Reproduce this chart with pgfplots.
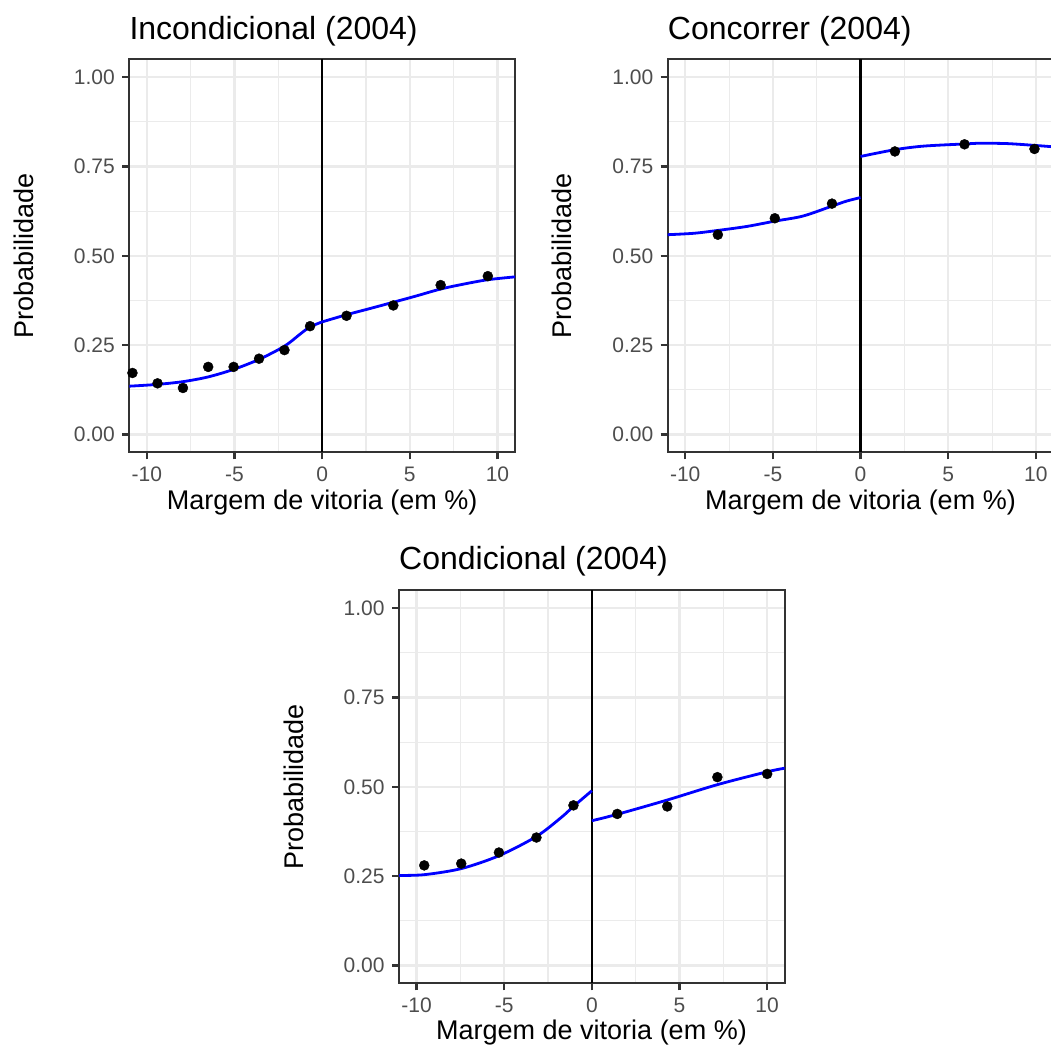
\documentclass[border=0pt]{standalone}
\usepackage{pgfplots}
\pgfplotsset{compat=1.18}
\usepackage{fontspec}
\setmainfont{Liberation Sans}
\definecolor{gridc}{HTML}{EBEBEB}
\definecolor{tickc}{HTML}{333333}
\definecolor{labc}{HTML}{4D4D4D}
\definecolor{myblue}{RGB}{0,0,255}
\newcommand{\titfont}{\fontsize{32}{38}\selectfont}
\newcommand{\labfont}{\fontsize{27}{32}\selectfont}
\newcommand{\ticfont}{\fontsize{21}{25}\selectfont}
\pgfplotsset{
 myax/.style={
  scale only axis, width=385.7pt, height=393pt, anchor=south west,
  xmin=-11, xmax=11, ymin=-0.05, ymax=1.05,
  xtick={-10,-5,0,5,10}, xticklabels={-10,-5,0,5,10},
  ytick={0,0.25,0.5,0.75,1}, yticklabels={0.00,0.25,0.50,0.75,1.00},
  minor xtick={-7.5,-2.5,2.5,7.5}, minor ytick={0.125,0.375,0.625,0.875},
  grid=both,
  major grid style={draw=gridc, line width=2.2pt},
  minor grid style={draw=gridc, line width=1.1pt},
  tick align=outside, major tick length=7pt, minor tick length=0pt,
  tick style={draw=tickc, line width=2.2pt},
  axis line style={draw=tickc, line width=2.2pt},
  tick pos=left,
  tick label style={font=\ticfont, text=labc},
  xticklabel style={anchor=north, inner sep=0pt, yshift=-7.4pt},
  yticklabel style={anchor=east, inner sep=0pt, xshift=-7.3pt},
  clip=true,
 },
 pts/.style={only marks, mark=*, mark size=5pt, black},
 crv/.style={myblue, line width=2.8pt, smooth},
 vln/.style={black, line width=2.4pt},
}
\begin{document}
\begin{tikzpicture}[x=1pt,y=1pt]
% Panel 1
\begin{axis}[myax, at={(129.3pt,595.7pt)}]
\addplot[vln] coordinates {(0,-0.05) (0,1.05)};
\addplot[crv] coordinates {(-11,0.135) (-9.4,0.140) (-7.9,0.148) (-6.5,0.161) (-5.05,0.182) (-3.6,0.210) (-2.15,0.247) (-1.2,0.283) (-0.69,0.301) (0,0.315)};
\addplot[crv] coordinates {(0,0.315) (1.39,0.335) (2.7,0.352) (4.06,0.370) (5.4,0.388) (6.76,0.407) (8.1,0.421) (9.45,0.433) (11,0.441)};
\addplot[pts] coordinates {(-10.82,0.172) (-9.39,0.143) (-7.94,0.130) (-6.50,0.189) (-5.05,0.189) (-3.60,0.212) (-2.15,0.236) (-0.69,0.303) (1.39,0.332) (4.06,0.361) (6.76,0.418) (9.45,0.443)};
\end{axis}
% Panel 2
\begin{axis}[myax, at={(667.7pt,595.7pt)}]
\addplot[vln] coordinates {(0,-0.05) (0,1.05)};
\addplot[crv] coordinates {(-11,0.559) (-9.5,0.563) (-8.14,0.571) (-6.5,0.582) (-4.89,0.597) (-3.3,0.611) (-1.63,0.639) (-0.8,0.653) (0,0.663)};
\addplot[crv] coordinates {(0,0.778) (1.96,0.797) (3.6,0.807) (5.93,0.813) (6.84,0.815) (8.37,0.814) (9.92,0.809) (11,0.805)};
\addplot[pts] coordinates {(-8.14,0.559) (-4.89,0.605) (-1.63,0.646) (1.96,0.792) (5.93,0.812) (9.92,0.799)};
\end{axis}
% Panel 3
\begin{axis}[myax, at={(399pt,64.7pt)}]
\addplot[vln] coordinates {(0,-0.05) (0,1.05)};
\addplot[crv] coordinates {(-11,0.252) (-9.56,0.254) (-7.45,0.271) (-5.3,0.307) (-3.16,0.361) (-1.75,0.414) (-1.05,0.445) (0,0.489)};
\addplot[crv] coordinates {(0,0.405) (1.45,0.423) (4.3,0.463) (7.16,0.506) (10,0.542) (11,0.552)};
\addplot[pts] coordinates {(-9.56,0.280) (-7.45,0.285) (-5.30,0.316) (-3.16,0.358) (-1.05,0.448) (1.45,0.424) (4.30,0.445) (7.16,0.527) (10.0,0.536)};
\end{axis}
% Titles
\node[anchor=base west, inner sep=0pt, font=\titfont] at (129.3,1008) {Incondicional (2004)};
\node[anchor=base west, inner sep=0pt, font=\titfont] at (667.7,1008) {Concorrer (2004)};
\node[anchor=base west, inner sep=0pt, font=\titfont] at (399,478) {Condicional (2004)};
% x labels
\node[anchor=base, inner sep=0pt, font=\labfont] at (322.2,538) {Margem de vitoria (em \%)};
\node[anchor=base, inner sep=0pt, font=\labfont] at (860.5,538) {Margem de vitoria (em \%)};
\node[anchor=base, inner sep=0pt, font=\labfont] at (591.5,8) {Margem de vitoria (em \%)};
% y labels
\node[anchor=base, inner sep=0pt, rotate=90, font=\labfont] at (33.3,792.2) {Probabilidade};
\node[anchor=base, inner sep=0pt, rotate=90, font=\labfont] at (571.7,792.2) {Probabilidade};
\node[anchor=base, inner sep=0pt, rotate=90, font=\labfont] at (303,261) {Probabilidade};
\pgfresetboundingbox
\useasboundingbox (0,0) rectangle (1051,1048);
\end{tikzpicture}
\end{document}
